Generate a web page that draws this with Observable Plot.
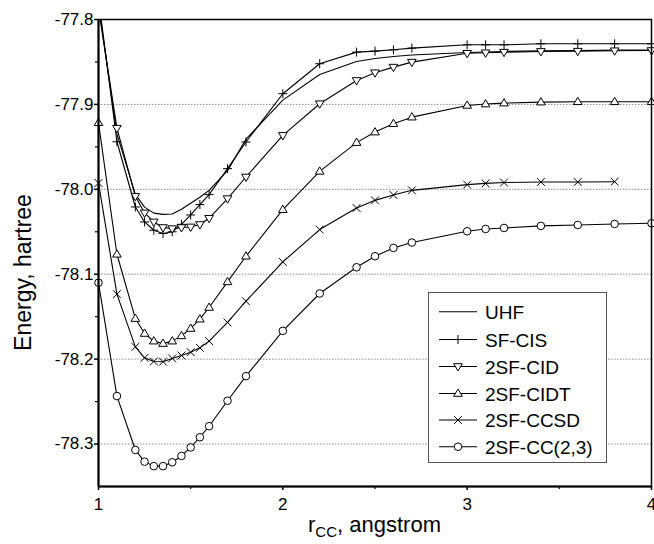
<!DOCTYPE html>
<html><head><meta charset="utf-8">
<script src="https://cdn.jsdelivr.net/npm/d3@7"></script>
<script src="https://cdn.jsdelivr.net/npm/@observablehq/plot@0.6"></script>
<style>
body{margin:0;background:#fff;}
#chart{position:relative;width:654px;height:544px;}
</style>
</head><body><div id="chart"></div>
<script>
// ---- data ----
const rCC = [1.0,1.1,1.2,1.25,1.3,1.35,1.4,1.45,1.5,1.55,1.6,1.7,1.8,2.0,2.2,2.4,2.5,2.6,2.7,3.0,3.1,3.2,3.4,3.6,3.8,4.0];
const seriesNames = ["UHF","SF-CIS","2SF-CID","2SF-CIDT","2SF-CCSD","2SF-CC(2,3)"];
const eUHF   = [-77.783,-77.935,-78.006,-78.021,-78.028,-78.0295,-78.029,-78.0235,-78.0165,-78.0094,-78.0012,-77.978,-77.941,-77.895,-77.8647,-77.8494,-77.846,-77.8435,-77.8418,-77.8388,-77.8382,-77.8376,-77.837,-77.8365,-77.8361,-77.8359];
const eSFCIS = [-77.775,-77.944,-78.0208,-78.0384,-78.0482,-78.052,-78.050,-78.0412,-78.0302,-78.018,-78.0062,-77.9757,-77.9443,-77.8874,-77.8521,-77.8384,-77.8373,-77.8357,-77.8337,-77.8298,-77.8298,-77.8298,-77.8286,-77.8286,-77.8286,-77.8286];
const eCID   = [-77.787,-77.928,-78.0082,-78.0278,-78.0384,-78.045,-78.0463,-78.045,-78.0443,-78.0415,-78.0341,-78.011,-77.9855,-77.9365,-77.8992,-77.8718,-77.8627,-77.8561,-77.8502,-77.8398,-77.8392,-77.8385,-77.8376,-77.8373,-77.8368,-77.8365];
const eCIDT  = [-77.9216,-78.0765,-78.1522,-78.1698,-78.1788,-78.1816,-78.1788,-78.1726,-78.1639,-78.1529,-78.1392,-78.109,-78.0788,-78.0239,-77.9788,-77.945,-77.9326,-77.9227,-77.915,-77.9012,-77.8996,-77.8985,-77.8973,-77.8969,-77.8969,-77.8969];
const eCCSD  = [-77.9926,-78.1235,-78.1855,-78.1984,-78.2027,-78.2030,-78.1992,-78.1957,-78.1918,-78.1867,-78.1788,-78.1568,-78.1318,-78.0855,-78.0474,-78.022,-78.013,-78.0067,-78.0012,-77.9945,-77.993,-77.992,-77.9914,-77.9914,-77.991,null];
const eCC23  = [-78.110,-78.2435,-78.307,-78.3208,-78.326,-78.326,-78.3215,-78.314,-78.304,-78.292,-78.279,-78.249,-78.220,-78.1667,-78.1227,-78.0918,-78.0788,-78.069,-78.0627,-78.0494,-78.0467,-78.0455,-78.0431,-78.042,-78.0408,-78.040];
const yTicks = [-77.8,-77.9,-78.0,-78.1,-78.2,-78.3];
const yMinorTicks = [-77.85,-77.95,-78.05,-78.15,-78.25];
const gridValues = [-77.9,-78.0,-78.1,-78.2,-78.3];
const xTicks = [1,2,3,4];
const xMinorTicks = [1.5,2.5,3.5];
const yDomain = [-78.35,-77.8];
const xDomain = [1,4];

// ---- marker shapes ----
const symbols = {
  none: null,
  plus: {draw(c){const h=4.5;c.moveTo(-h,0);c.lineTo(h,0);c.moveTo(0,-h);c.lineTo(0,h);}},
  triDown: {draw(c){c.moveTo(-4.3,-2.8);c.lineTo(4.3,-2.8);c.lineTo(0,4.5);c.closePath();}},
  triUp: {draw(c){c.moveTo(-4.3,2.8);c.lineTo(4.3,2.8);c.lineTo(0,-4.5);c.closePath();}},
  times: {draw(c){const h=3.9;c.moveTo(-h,-h);c.lineTo(h,h);c.moveTo(-h,h);c.lineTo(h,-h);}},
  circle: {draw(c){const r=3.8;c.moveTo(r,0);c.arc(0,0,r,0,2*Math.PI);}}
};
const seriesSymbols = ["none","plus","triDown","triUp","times","circle"];
const seriesValues = [eUHF,eSFCIS,eCID,eCIDT,eCCSD,eCC23];

const table = [];
seriesNames.forEach((name,i)=>{
  seriesValues[i].forEach((e,j)=>{ if(e!=null) table.push({series:name, r:rCC[j], E:e}); });
});

const dotMarks = seriesNames.map((name,i)=> symbols[seriesSymbols[i]] ? Plot.dot(table, {
  filter: d=> d.series===name && d.E <= yDomain[1] && d.E >= yDomain[0],
  x:"r", y:"E", symbol: symbols[seriesSymbols[i]], r:4, fill:"white", stroke:"black", strokeWidth:1
}) : null).filter(Boolean);

const chart = Plot.plot({
  width:654, height:544,
  marginLeft:98, marginRight:3, marginTop:19, marginBottom:58,
  x:{domain:xDomain},
  y:{domain:yDomain},
  style:{fontFamily:"'Liberation Sans', Arial, sans-serif", fontSize:"17px", color:"black", background:"white"},
  marks:[
    Plot.ruleY(gridValues,{stroke:"#8a8a8a",strokeDasharray:"1.5,1.5",strokeWidth:1}),
    Plot.axisY(yTicks,{tickSize:4,tickPadding:1,label:null,fontSize:17,tickFormat:d=>d.toFixed(1),strokeWidth:1.5}),
    Plot.axisY(yMinorTicks,{tickSize:3,text:null,label:null,strokeWidth:1.2}),
    Plot.axisX(xTicks,{tickSize:4,tickPadding:7,label:null,fontSize:17,tickFormat:d=>String(d),strokeWidth:1.5}),
    Plot.axisX(xMinorTicks,{tickSize:3,text:null,label:null,strokeWidth:1.2}),
    Plot.line(table,{x:"r",y:"E",z:"series",stroke:"black",strokeWidth:1.1,clip:true}),
    ...dotMarks,
    Plot.frame({stroke:"black",strokeWidth:1.5}),
    Plot.ruleX([xDomain[0]],{stroke:"black",strokeWidth:2}),
    Plot.ruleY([yDomain[0]],{stroke:"black",strokeWidth:2})
  ]
});
document.getElementById("chart").appendChild(chart);

// ---- axis titles and legend ----
const svg = d3.select(chart);
const font = "'Liberation Sans', Arial, sans-serif";
svg.append("text")
  .attr("transform","translate(31,272.5) rotate(-90)")
  .attr("text-anchor","middle").attr("font-family",font).attr("font-size",23).attr("fill","black")
  .text("Energy, hartree");
const xl = svg.append("text")
  .attr("x",374.5).attr("y",532).attr("text-anchor","middle")
  .attr("font-family",font).attr("font-size",22).attr("fill","black");
xl.append("tspan").text("r");
xl.append("tspan").attr("font-size",15).attr("dy",5).text("CC");
xl.append("tspan").attr("dy",-5).text(", angstrom");

const lg = svg.append("g").attr("text-anchor","start");
lg.append("rect").attr("x",428.5).attr("y",292.5).attr("width",178).attr("height",170)
  .attr("fill","white").attr("stroke","#555").attr("stroke-width",1);
const legendY = [311.7,339.5,366.5,393.5,420,446.7];
seriesNames.forEach((name,i)=>{
  const y = legendY[i];
  lg.append("line").attr("x1",439).attr("x2",477).attr("y1",y).attr("y2",y)
    .attr("stroke","black").attr("stroke-width",1.1);
  const s = symbols[seriesSymbols[i]];
  if (s) {
    const p = d3.path(); s.draw(p);
    lg.append("path").attr("d",p.toString()).attr("transform",`translate(458,${y})`)
      .attr("fill","white").attr("stroke","black").attr("stroke-width",1);
  }
  lg.append("text").attr("x",485).attr("y",y+7).attr("text-anchor","start")
    .attr("font-family",font).attr("font-size",19).attr("fill","black").text(name);
});
</script>
</body></html>
